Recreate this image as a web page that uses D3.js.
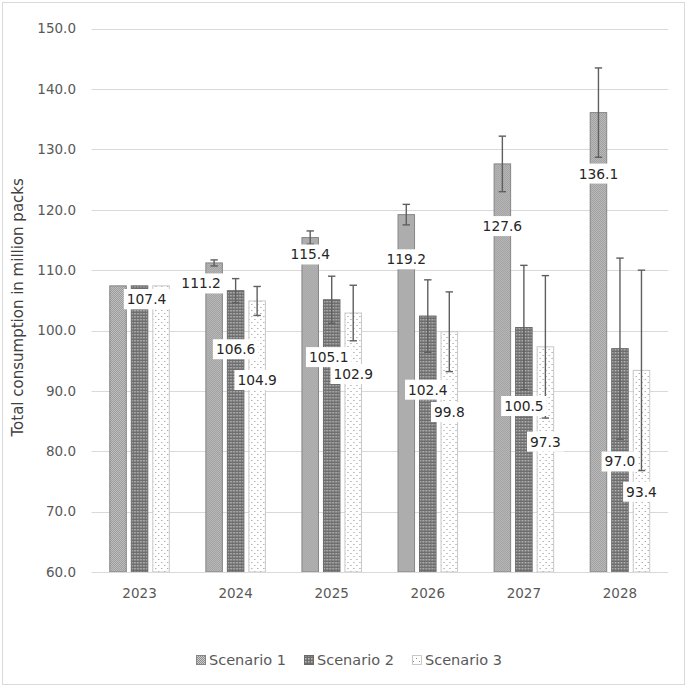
<!DOCTYPE html>
<html>
<head>
<meta charset="utf-8">
<script src="https://cdn.jsdelivr.net/npm/d3@7"></script>
<style>
  body { margin: 0; background: #fff; }
  text { font-family: "DejaVu Sans", sans-serif; }
</style>
</head>
<body>
<svg id="chart" width="687" height="687"></svg>
<script>
// values
const years = ['2023', '2024', '2025', '2026', '2027', '2028'];
const seriesNames = ['Scenario 1', 'Scenario 2', 'Scenario 3'];
const scenario1 = [107.4, 111.2, 115.4, 119.2, 127.6, 136.1];
const scenario2 = [107.4, 106.6, 105.1, 102.4, 100.5, 97.0];
const scenario3 = [107.4, 104.9, 102.9, 99.8, 97.3, 93.4];
const error1 = [0, 0.5, 1.1, 1.7, 4.6, 7.4];
const error2 = [0, 2.0, 3.9, 6.0, 10.3, 15.0];
const error3 = [0, 2.4, 4.6, 6.6, 11.8, 16.6];
const yTicks = [60, 70, 80, 90, 100, 110, 120, 130, 140, 150];

// where the (hand-placed) data labels sit, in axis units, and sideways nudges in px
const labelAt1 = [105.2, 107.8, 112.6, 111.8, 117.3, 126.0];
const labelAt2 = [105.2, 96.9, 95.6, 90.2, 87.5, 78.3];
const labelAt3 = [105.2, 91.8, 92.8, 86.5, 81.6, 73.3];
const labelNudge1 = [29.5, -13, 0, 0, 0, 0];
const labelNudge2 = [7.5, 0, -3, 0, 0, 0];
const labelNudge3 = [-14.5, 0, 0, 0, 0, 0];

const values = [scenario1, scenario2, scenario3];
const errors = [error1, error2, error3];
const labelAt = [labelAt1, labelAt2, labelAt3];
const labelNudge = [labelNudge1, labelNudge2, labelNudge3];

const svg = d3.select('#chart');
const grey = '#595959';
const gridCol = '#d9d9d9';

svg.append('rect')
  .attr('x', 2.5).attr('y', 2.5)
  .attr('width', 682).attr('height', 682)
  .attr('fill', '#fff').attr('stroke', gridCol);

// patterns for the three scenarios
const defs = svg.append('defs');
const p1 = defs.append('pattern').attr('id', 'pat1')
  .attr('patternUnits', 'userSpaceOnUse').attr('width', 2).attr('height', 2);
p1.append('rect').attr('width', 2).attr('height', 2).attr('fill', '#d0d0d0');
p1.append('rect').attr('width', 1).attr('height', 1).attr('fill', '#8a8a8a');
p1.append('rect').attr('x', 1).attr('y', 1).attr('width', 1).attr('height', 1).attr('fill', '#8a8a8a');

const p2 = defs.append('pattern').attr('id', 'pat2')
  .attr('patternUnits', 'userSpaceOnUse').attr('width', 3).attr('height', 3);
p2.append('rect').attr('width', 3).attr('height', 3).attr('fill', '#6e6e6e');
p2.append('rect').attr('x', 1).attr('y', 1).attr('width', 1.5).attr('height', 1.5).attr('fill', '#bdbdbd');

const p3 = defs.append('pattern').attr('id', 'pat3')
  .attr('patternUnits', 'userSpaceOnUse').attr('width', 6).attr('height', 6);
p3.append('rect').attr('width', 6).attr('height', 6).attr('fill', '#fff');
p3.append('rect').attr('x', 1).attr('y', 1).attr('width', 1).attr('height', 1).attr('fill', '#8c8c8c');
p3.append('rect').attr('x', 4).attr('y', 4).attr('width', 1).attr('height', 1).attr('fill', '#8c8c8c');

const fills = ['url(#pat1)', 'url(#pat2)', 'url(#pat3)'];
const outlines = ['#858585', '#6a6a6a', '#c8c8c8'];

const plotLeft = 91.5, plotRight = 668, plotTop = 28.7, plotBottom = 572;

const x0 = d3.scaleBand().domain(years).range([plotLeft, plotRight]).paddingInner(0.37).paddingOuter(0.185);
const x1 = d3.scaleBand().domain(seriesNames).range([0, x0.bandwidth()]).paddingInner(0.186);
const y = d3.scaleLinear().domain([60, 150]).range([plotBottom, plotTop]);

// gridlines
svg.append('g').selectAll('line')
  .data(yTicks.slice(1))
  .join('line')
  .attr('x1', plotLeft).attr('x2', plotRight)
  .attr('y1', d => Math.round(y(d)) + 0.5).attr('y2', d => Math.round(y(d)) + 0.5)
  .attr('stroke', gridCol).attr('stroke-width', 1);

// y tick labels
svg.append('g').selectAll('text')
  .data(yTicks)
  .join('text')
  .attr('x', 76).attr('y', d => y(d))
  .attr('dy', '0.35em')
  .attr('text-anchor', 'end')
  .attr('font-size', 13.5)
  .attr('fill', grey)
  .text(d => d.toFixed(1));

// bars
const groups = svg.append('g').selectAll('g')
  .data(years)
  .join('g')
  .attr('transform', d => `translate(${x0(d)},0)`);

groups.selectAll('rect')
  .data((d, i) => seriesNames.map((s, k) => ({ s, k, v: values[k][i] })))
  .join('rect')
  .attr('x', d => x1(d.s) + 0.5)
  .attr('y', d => y(d.v))
  .attr('width', x1.bandwidth() - 1)
  .attr('height', d => y(60) - y(d.v))
  .attr('fill', d => fills[d.k])
  .attr('stroke', d => outlines[d.k])
  .attr('stroke-width', 1);

// axis line
svg.append('line')
  .attr('x1', plotLeft).attr('x2', plotRight)
  .attr('y1', Math.round(y(60)) + 0.5).attr('y2', Math.round(y(60)) + 0.5)
  .attr('stroke', gridCol).attr('stroke-width', 1);

// error bars
const eb = groups.selectAll('g.err')
  .data((d, i) => seriesNames.map((s, k) => ({ s, k, v: values[k][i], e: errors[k][i] })).filter(d => d.e > 0))
  .join('g').attr('class', 'err')
  .attr('stroke', '#5f5f5f').attr('stroke-width', 1.4);
eb.append('line')
  .attr('x1', d => x1(d.s) + x1.bandwidth() / 2).attr('x2', d => x1(d.s) + x1.bandwidth() / 2)
  .attr('y1', d => y(d.v + d.e)).attr('y2', d => y(d.v - d.e));
eb.append('line')
  .attr('x1', d => x1(d.s) + x1.bandwidth() / 2 - 3.7).attr('x2', d => x1(d.s) + x1.bandwidth() / 2 + 3.7)
  .attr('y1', d => y(d.v + d.e)).attr('y2', d => y(d.v + d.e));
eb.append('line')
  .attr('x1', d => x1(d.s) + x1.bandwidth() / 2 - 3.7).attr('x2', d => x1(d.s) + x1.bandwidth() / 2 + 3.7)
  .attr('y1', d => y(d.v - d.e)).attr('y2', d => y(d.v - d.e));

// data labels with white boxes
const lab = groups.selectAll('g.lab')
  .data((d, i) => seriesNames.map((s, k) => ({ s, k, v: values[k][i], at: labelAt[k][i], dx: labelNudge[k][i] })))
  .join('g').attr('class', 'lab')
  .attr('transform', d => `translate(${x1(d.s) + x1.bandwidth() / 2 + d.dx},${y(d.at)})`);
lab.append('rect').attr('fill', '#fff');
lab.append('text')
  .attr('text-anchor', 'middle')
  .attr('dy', '0.36em')
  .attr('font-size', 13.8)
  .attr('fill', '#262626')
  .text(d => d.v.toFixed(1));
lab.each(function () {
  const g = d3.select(this);
  const w = g.select('text').node().getComputedTextLength();
  g.select('rect').attr('x', -w / 2 - 3).attr('y', -10).attr('width', w + 6).attr('height', 20);
});

// x tick labels
svg.append('g').selectAll('text')
  .data(years)
  .join('text')
  .attr('x', d => x0(d) + x0.bandwidth() / 2)
  .attr('y', 593)
  .attr('dy', '0.35em')
  .attr('text-anchor', 'middle')
  .attr('font-size', 13.5)
  .attr('fill', grey)
  .text(d => d);

// y title
svg.append('text')
  .attr('transform', `translate(18,${(plotTop + plotBottom) / 2 + 7}) rotate(-90)`)
  .attr('dy', '0.35em')
  .attr('text-anchor', 'middle')
  .attr('font-size', 15)
  .attr('fill', '#404040')
  .text('Total consumption in million packs');

// legend
const legend = svg.append('g').selectAll('g')
  .data(seriesNames)
  .join('g')
  .attr('transform', (d, i) => `translate(${196 + i * 108},660)`);
legend.append('rect')
  .attr('x', 0.5).attr('y', -4.5)
  .attr('width', 9).attr('height', 9)
  .attr('fill', (d, i) => fills[i])
  .attr('stroke', (d, i) => outlines[i]);
legend.append('text')
  .attr('x', 13).attr('dy', '0.35em')
  .attr('font-size', 14.5)
  .attr('fill', grey)
  .text(d => d);
</script>
</body>
</html>
